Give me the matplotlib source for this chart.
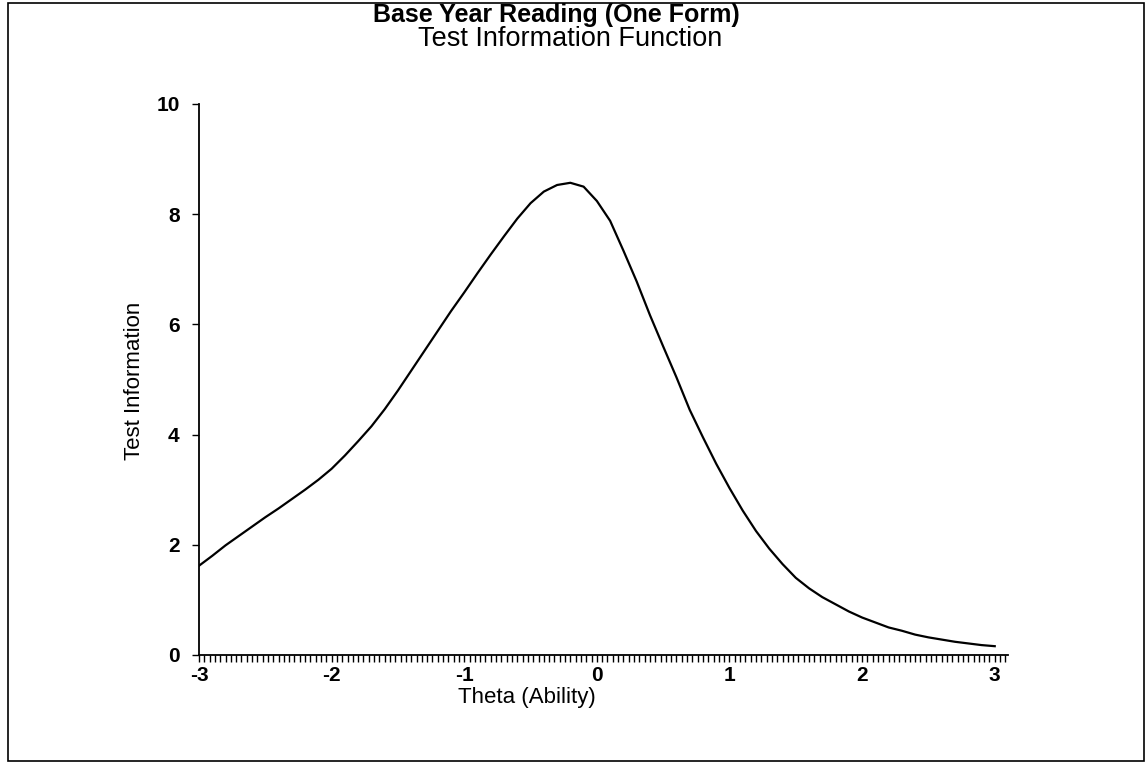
import numpy as np
import matplotlib.pyplot as plt
from matplotlib.ticker import MultipleLocator
from matplotlib.patches import Rectangle

plt.rcParams['font.family'] = ['Liberation Sans', 'DejaVu Sans']
plt.rcParams['axes.unicode_minus'] = False

# test information function
theta = [-3.0, -2.9, -2.8, -2.7, -2.6, -2.5, -2.4, -2.3, -2.2, -2.1,
         -2.0, -1.9, -1.8, -1.7, -1.6, -1.5, -1.4, -1.3, -1.2, -1.1,
         -1.0, -0.9, -0.8, -0.7, -0.6, -0.5, -0.4, -0.3, -0.2, -0.1,
         0.0, 0.1, 0.2, 0.3, 0.4, 0.5, 0.6, 0.7, 0.8, 0.9,
         1.0, 1.1, 1.2, 1.3, 1.4, 1.5, 1.6, 1.7, 1.8, 1.9,
         2.0, 2.1, 2.2, 2.3, 2.4, 2.5, 2.6, 2.7, 2.8, 2.9, 3.0]
info = [1.62, 1.80, 1.99, 2.16, 2.33, 2.50, 2.66, 2.83, 3.00, 3.18,
        3.38, 3.62, 3.88, 4.15, 4.46, 4.80, 5.16, 5.52, 5.88, 6.24,
        6.58, 6.93, 7.27, 7.60, 7.92, 8.20, 8.41, 8.53, 8.57, 8.50,
        8.24, 7.88, 7.34, 6.78, 6.17, 5.60, 5.04, 4.45, 3.95, 3.47,
        3.03, 2.62, 2.25, 1.93, 1.65, 1.40, 1.21, 1.05, 0.92, 0.79,
        0.68, 0.59, 0.50, 0.44, 0.37, 0.32, 0.28, 0.24, 0.21, 0.18, 0.16]
xticks = [-3, -2, -1, 0, 1, 2, 3]
yticks = [0, 2, 4, 6, 8, 10]

fig = plt.figure(figsize=(11.48, 7.64), dpi=100)
ax = fig.add_axes([199/1148, 109/764, 809/1148, 551/764])

ax.plot(theta, info, color='black', lw=1.6)

ax.set_xlim(-3.0, 3.1)
ax.set_ylim(0, 10)
ax.spines['top'].set_visible(False)
ax.spines['right'].set_visible(False)
ax.spines['left'].set_linewidth(1.3)
ax.spines['bottom'].set_linewidth(1.3)

ax.set_xticks(xticks)
ax.xaxis.set_minor_locator(MultipleLocator(0.04))
ax.set_yticks(yticks)
ax.tick_params(axis='x', which='both', direction='out', length=5, width=1.0, pad=3)
ax.tick_params(axis='y', direction='out', length=5, width=1.0, pad=9)
ax.tick_params(labelsize=15)
for lab in ax.get_xticklabels() + ax.get_yticklabels():
    lab.set_fontweight('bold')

fig.text(556/1148, 1 - 15/764, 'Base Year Reading (One Form)', ha='center', va='center',
         fontsize=18, fontweight='bold')
fig.text(570/1148, 1 - 39/764, 'Test Information Function', ha='center', va='center',
         fontsize=19.5)
fig.text(527/1148, 1 - 697/764, 'Theta (Ability)', ha='center', va='center', fontsize=16)
fig.text(135/1148, 1 - 381/764, 'Test Information', ha='center', va='center',
         fontsize=16, rotation=90)

# scanned page frame
fig.patches.append(Rectangle((8/1148, 3/764), 1136/1148, 758/764, transform=fig.transFigure,
                             fill=False, edgecolor='black', lw=1.2))

fig.savefig('out.png', dpi=100)
